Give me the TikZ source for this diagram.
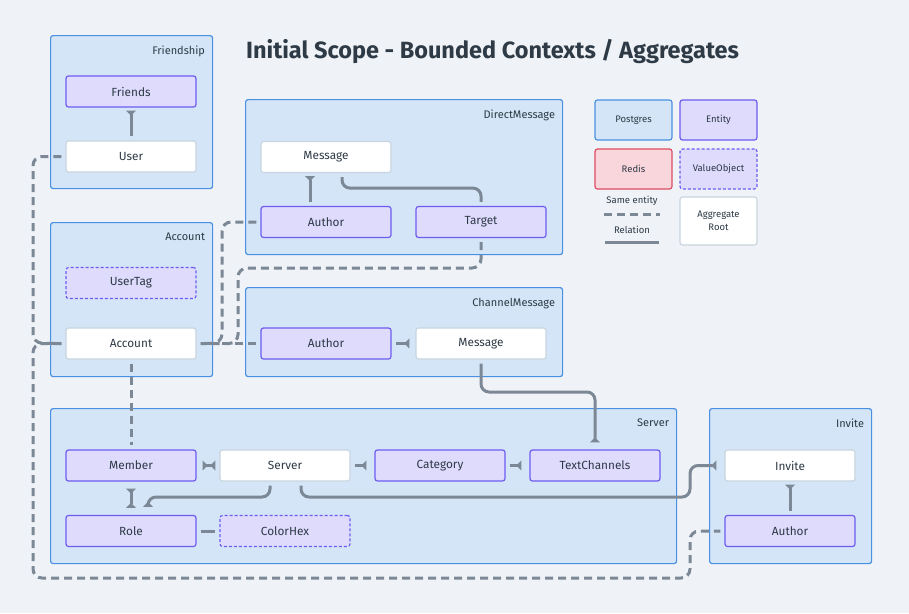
\documentclass[tikz,border=0pt]{standalone}
\usepackage{fontspec}
\setmainfont{Fira Sans}
\usetikzlibrary{arrows.meta}
\definecolor{bg}{HTML}{EFF3F7}
\definecolor{contF}{HTML}{D3E5F6}
\definecolor{contB}{HTML}{4A90E2}
\definecolor{entF}{HTML}{DEDBFD}
\definecolor{entB}{HTML}{6E5CF0}
\definecolor{rootB}{HTML}{C9D5E0}
\definecolor{redisF}{HTML}{F9D6DB}
\definecolor{redisB}{HTML}{DC4D63}
\definecolor{conn}{HTML}{7C8895}
\definecolor{txt}{HTML}{2E3A46}
\tikzset{
  cont/.style={draw=contB, fill=contF, line width=1.2pt, rounded corners=2.5pt, anchor=north west, inner sep=0pt},
  clabel/.style={anchor=north east, text=txt, font=\fontsize{11}{13}\selectfont, inner sep=0pt},
  box/.style={line width=1.2pt, rounded corners=2.5pt, minimum width=130pt, minimum height=31pt, text=txt, font=\fontsize{11.8}{13}\selectfont, inner sep=0pt},
  ent/.style={box, draw=entB, fill=entF},
  vo/.style={ent, dash pattern=on 3pt off 2pt},
  root/.style={box, draw=rootB, fill=white},
  lgd/.style={minimum width=77pt, minimum height=40pt, font=\fontsize{9.5}{11}\selectfont},
  rel/.style={draw=conn, line width=3pt, rounded corners=8pt},
  same/.style={draw=conn, line width=3pt, rounded corners=9pt, dash pattern=on 8pt off 5pt},
  hd/.style={-{Triangle[reversed, length=5pt, width=10pt]}},
  hdb/.style={{Triangle[reversed, length=5pt, width=10pt]}-{Triangle[reversed, length=5pt, width=10pt]}},
}
\begin{document}
\begin{tikzpicture}[x=1pt,y=-1pt]
\fill[bg] (0,0) rectangle (909,613);
\useasboundingbox (0,0) rectangle (909,613);

% title
\node[anchor=west, text=txt, font=\fontsize{23.5}{28}\selectfont\bfseries, inner sep=0pt] (title) at (246,52) {Initial Scope - Bounded Contexts / Aggregates};

% containers
\node[cont, minimum width=162pt, minimum height=153pt] (friendship) at (50,35) {};
\node[clabel] (friendshipl) at ([xshift=-8pt,yshift=-11pt]friendship.north east) {Friendship};
\node[cont, minimum width=317pt, minimum height=155pt] (dm) at (245,99) {};
\node[clabel] (dml) at ([xshift=-8pt,yshift=-11pt]dm.north east) {DirectMessage};
\node[cont, minimum width=162pt, minimum height=154pt] (acc) at (50,222) {};
\node[clabel] (accl) at ([xshift=-8pt,yshift=-11pt]acc.north east) {Account};
\node[cont, minimum width=317pt, minimum height=89pt] (cm) at (245,287) {};
\node[clabel] (cml) at ([xshift=-8pt,yshift=-11pt]cm.north east) {ChannelMessage};
\node[cont, minimum width=626pt, minimum height=155pt] (srv) at (50,408) {};
\node[clabel] (srvl) at ([xshift=-8pt,yshift=-11pt]srv.north east) {Server};
\node[cont, minimum width=162pt, minimum height=155pt] (inv) at (709,408) {};
\node[clabel] (invl) at ([xshift=-8pt,yshift=-11pt]inv.north east) {Invite};

% nodes
\node[ent] (friends) at (131,91.5) {Friends};
\node[root] (user) at (131,156.5) {User};
\node[root] (dmmsg) at (326,157) {Message};
\node[ent] (dmauth) at (326,222) {Author};
\node[ent] (target) at (481,222) {Target};
\node[vo] (usertag) at (131,283) {UserTag};
\node[root] (account) at (131,343.5) {Account};
\node[ent] (cmauth) at (326,343.5) {Author};
\node[root] (cmmsg) at (481,343.5) {Message};
\node[ent] (member) at (131,465.5) {Member};
\node[root] (server) at (285,465.5) {Server};
\node[ent] (category) at (440,465.5) {Category};
\node[ent] (textch) at (595,465.5) {TextChannels};
\node[ent] (role) at (131,531) {Role};
\node[vo] (colorhex) at (285,531) {ColorHex};
\node[root] (invite) at (790,465.5) {Invite};
\node[ent] (invauth) at (790,531) {Author};

% legend
\node[box, lgd, draw=contB, fill=contF] (lpg) at (633.5,120) {Postgres};
\node[ent, lgd] (lent) at (718.5,120) {Entity};
\node[box, lgd, draw=redisB, fill=redisF] (lredis) at (633.5,169) {Redis};
\node[vo, lgd] (lvo) at (718.5,169) {ValueObject};
\node[root, lgd, minimum height=48pt, align=center, font=\fontsize{9.5}{13}\selectfont] (lroot) at (718.5,221) {Aggregate\\Root};
\node[text=txt, font=\fontsize{9.5}{11}\selectfont, inner sep=0pt] (lsame) at (632,201) {Same entity};
\node[text=txt, font=\fontsize{9.5}{11}\selectfont, inner sep=0pt] (lrel) at (632,230) {Relation};
\coordinate (ls1) at (604,214);
\coordinate (ls2) at (660,214);
\coordinate (lr1) at (605,242);
\coordinate (lr2) at (659,242);
\draw[same] (ls1) -- (ls2);
\draw[rel] (lr1) -- (lr2);

% relations
\draw[rel, hd] ([yshift=4pt]user.north) -- ([yshift=-3pt]friends.south);
\draw[rel, hd] ([yshift=4pt]dmauth.north -| 310,0) -- ([yshift=-3pt]dmmsg.south -| 310,0);
\draw[rel] ([xshift=16pt,yshift=-4pt]dmmsg.south) -- ++(0,11) -| ([yshift=4pt]target.north);
\draw[rel, hd] ([xshift=4pt]cmauth.east) -- ([xshift=-6pt]cmmsg.west);
\draw[rel, hd] ([yshift=-4pt]cmmsg.south) |- (595,392) -- ([yshift=7pt]textch.north);
\draw[rel, hdb] ([xshift=6pt]member.east) -- ([xshift=-4pt]server.west);
\draw[rel, hd] ([xshift=4pt]server.east) -- ([xshift=-8pt]category.west);
\draw[rel, hd] ([xshift=4pt]category.east) -- ([xshift=-8pt]textch.west);
\draw[rel, hdb] ([yshift=-7pt]member.south) -- ([yshift=7pt]role.north);
\draw[rel] ([xshift=4pt]role.east) -- ([xshift=-4pt]colorhex.west);
\draw[rel, hd] ([xshift=-15pt,yshift=-4pt]server.south) |- (148,497) -- ([xshift=17pt,yshift=8pt]role.north);
\draw[rel, hd] ([xshift=16pt,yshift=-4pt]server.south) |- (690,497) |- ([xshift=-8pt]invite.west);
\draw[rel, hd] ([yshift=4pt]invauth.north) -- ([yshift=-3pt]invite.south);

% same entity
\draw[same] ([xshift=-4pt]user.west) -| (33,343) -- ([xshift=-4pt]account.west);
\draw[same] ([xshift=-4pt]account.west) -| (33,578) -| (690,531) -- ([xshift=-4pt]invauth.west);
\draw[same] ([yshift=-4pt]account.south) -- ([yshift=4pt]member.north);
\draw[same] ([xshift=-4pt]dmauth.west) -| (222,343) -- ([xshift=4pt]account.east);
\draw[same] ([yshift=-4pt]target.south) |- (238,268) |- ([xshift=4pt]account.east);
\draw[same] ([xshift=-4pt]cmauth.west) -- ([xshift=4pt]account.east);
\end{tikzpicture}
\end{document}
